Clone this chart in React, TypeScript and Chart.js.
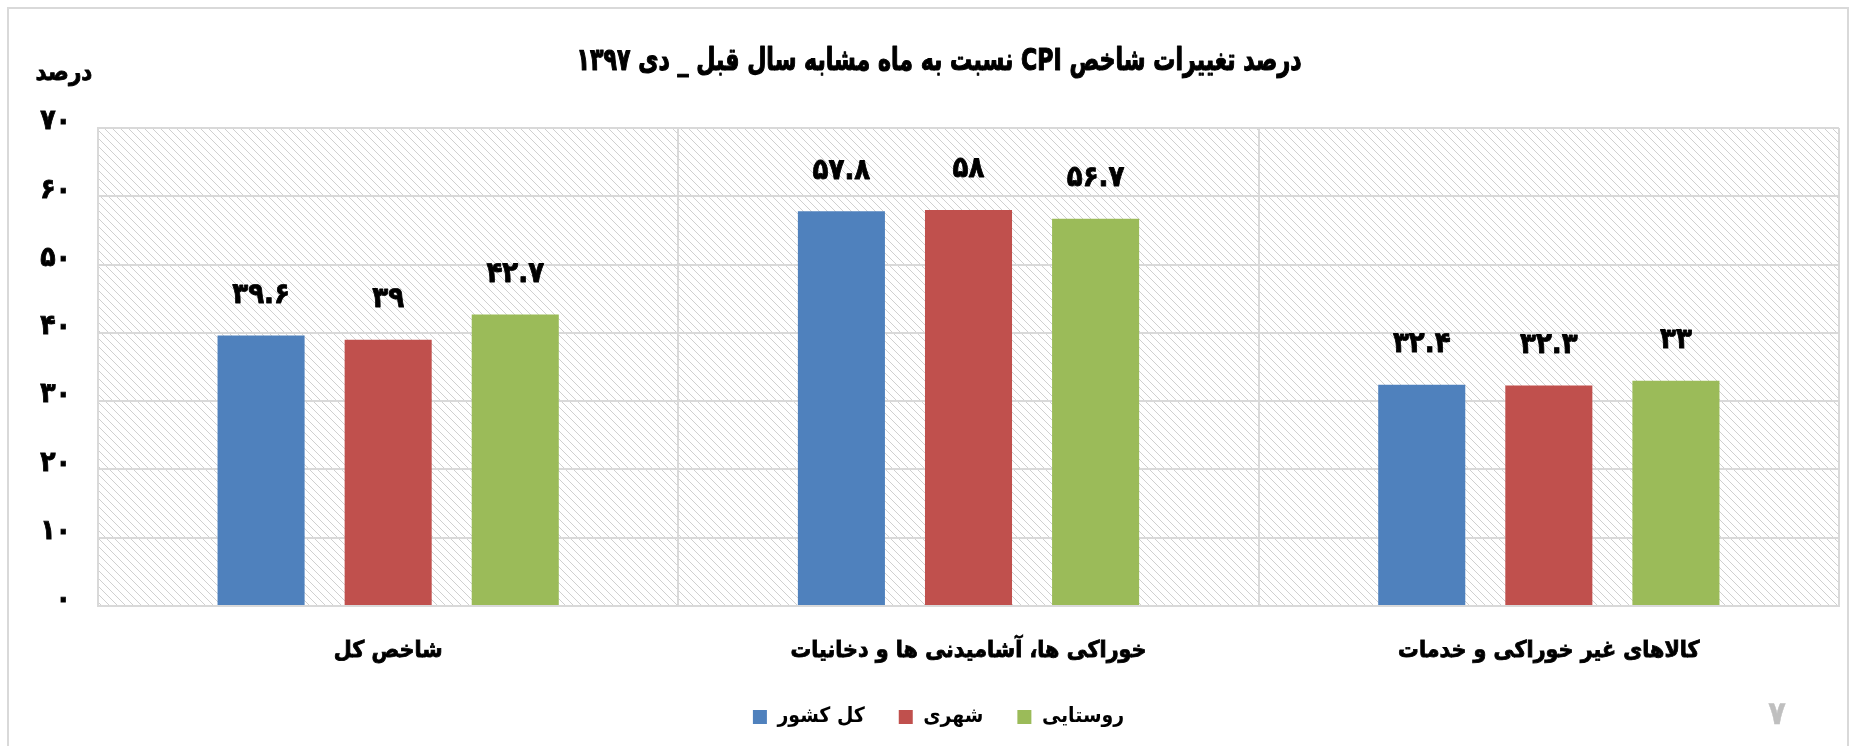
import React, { useEffect, useRef } from 'react';
import { Chart, registerables } from 'chart.js';

Chart.register(...registerables);

// ---- data ----
const categories = [
  'شاخص کل',
  'خوراکی ها، آشامیدنی ها و دخانیات',
  'کالاهای غیر خوراکی و خدمات',
];
const seriesNames = ['کل کشور', 'شهری', 'روستایی'];
const totalCountry = [39.6, 57.8, 32.4];
const urban = [39, 58, 32.3];
const rural = [42.7, 56.7, 33];
const yMin = 0;
const yMax = 70;
const yStep = 10;
const titleText = 'درصد تغییرات شاخص CPI نسبت به ماه مشابه سال قبل _ دی ۱۳۹۷';
const unitLabel = 'درصد';
const pageNumber = '۷';
const seriesColors = ['#4f81bd', '#c0504d', '#9bbb59'];

const FONT = "'DejaVu Sans Condensed', 'DejaVu Sans', sans-serif";
const toFa = (v: number | string) =>
  String(v).replace(/[0-9]/g, (d) => '۰۱۲۳۴۵۶۷۸۹'[Number(d)]);

function makeHatch(ctx: CanvasRenderingContext2D) {
  const c = document.createElement('canvas');
  c.width = 8;
  c.height = 8;
  const g = c.getContext('2d')!;
  g.strokeStyle = '#d0d0d0';
  g.lineWidth = 1;
  g.beginPath();
  g.moveTo(-1, -1);
  g.lineTo(9, 9);
  g.moveTo(-1, 7);
  g.lineTo(1, 9);
  g.moveTo(7, -1);
  g.lineTo(9, 1);
  g.stroke();
  return ctx.createPattern(c, 'repeat');
}

function heavyText(
  ctx: CanvasRenderingContext2D,
  text: string,
  x: number,
  y: number,
  size: number,
  color: string,
  stroke: number,
  targetWidth?: number
) {
  ctx.save();
  ctx.direction = 'rtl';
  ctx.font = `bold ${size}px ${FONT}`;
  ctx.textAlign = 'center';
  ctx.textBaseline = 'middle';
  ctx.translate(x, y);
  if (targetWidth) {
    const w = ctx.measureText(text).width;
    if (w > 0) ctx.scale(targetWidth / w, 1);
  }
  ctx.fillStyle = color;
  ctx.fillText(text, 0, 0);
  if (stroke > 0) {
    ctx.strokeStyle = color;
    ctx.lineWidth = stroke;
    ctx.lineJoin = 'round';
    ctx.strokeText(text, 0, 0);
  }
  ctx.restore();
}

export default function App() {
  const ref = useRef<HTMLCanvasElement>(null);

  useEffect(() => {
    document.body.style.margin = '0';
    const canvas = ref.current!;
    const ctx0 = canvas.getContext('2d')!;
    const hatch = makeHatch(ctx0);

    const decor = {
      id: 'decor',
      afterLayout(chart: any) {
        const lg = chart.legend;
        if (lg) {
          lg.left += 15;
          lg.right += 15;
        }
      },
      beforeDraw(chart: any) {
        const { ctx, chartArea: a } = chart;
        ctx.save();
        ctx.fillStyle = '#ffffff';
        ctx.fillRect(0, 0, chart.width, chart.height);
        ctx.strokeStyle = '#d9d9d9';
        ctx.lineWidth = 2;
        ctx.beginPath();
        ctx.moveTo(8, chart.height + 5);
        ctx.lineTo(8, 8);
        ctx.lineTo(1848, 8);
        ctx.lineTo(1848, chart.height + 5);
        ctx.stroke();
        if (hatch) {
          ctx.fillStyle = hatch;
          ctx.fillRect(a.left, a.top, a.right - a.left, a.bottom - a.top);
        }
        ctx.restore();
      },
      afterDatasetsDraw(chart: any) {
        const { ctx } = chart;
        chart.data.datasets.forEach((ds: any, i: number) => {
          const meta = chart.getDatasetMeta(i);
          meta.data.forEach((el: any, j: number) => {
            heavyText(ctx, toFa(ds.data[j]), el.x, el.y - 40, 29, '#000000', 0.8);
          });
        });
      },
      afterDraw(chart: any) {
        const { ctx } = chart;
        heavyText(ctx, titleText, 939, 62, 31, '#000000', 1.1, 725);
        heavyText(ctx, unitLabel, 64, 74, 24, '#000000', 0.8);
        heavyText(ctx, pageNumber, 1777, 716, 32, '#bfbfbf', 0.5);
      },
    };

    const chart = new Chart(canvas, {
      type: 'bar',
      data: {
        labels: categories,
        datasets: [
          { label: seriesNames[0], data: totalCountry, backgroundColor: seriesColors[0], borderWidth: 0 },
          { label: seriesNames[1], data: urban, backgroundColor: seriesColors[1], borderWidth: 0 },
          { label: seriesNames[2], data: rural, backgroundColor: seriesColors[2], borderWidth: 0 },
        ],
      },
      options: {
        responsive: false,
        animation: false,
        devicePixelRatio: 1,
        layout: { padding: { left: 8, right: 16, top: 128, bottom: 8.5 } },
        datasets: {
          bar: { categoryPercentage: 0.657, barPercentage: 0.685 },
        } as any,
        scales: {
          x: {
            grid: { color: '#d9d9d9', lineWidth: 2, drawTicks: false, offset: true },
            border: { color: '#d9d9d9', width: 2 },
            ticks: {
              color: '#000000',
              font: { family: FONT, size: 23, weight: 'bold', lineHeight: 1.2 },
              padding: 31,
              maxRotation: 0,
              autoSkip: false,
              textStrokeColor: '#000000',
              textStrokeWidth: 0.8,
            } as any,
            afterFit: (s: any) => {
              s.height = 66.5;
            },
          },
          y: {
            min: yMin,
            max: yMax,
            grid: { color: '#d9d9d9', lineWidth: 2, drawTicks: false },
            border: { color: '#d9d9d9', width: 2 },
            ticks: {
              stepSize: yStep,
              color: '#000000',
              font: { family: FONT, size: 28, weight: 'bold' },
              padding: 27,
              labelOffset: -6,
              textStrokeColor: '#000000',
              textStrokeWidth: 0.8,
              callback: (v: any) => toFa(v),
            } as any,
            afterFit: (s: any) => {
              s.width = 90;
            },
          },
        },
        plugins: {
          title: { display: false },
          legend: {
            display: true,
            position: 'bottom',
            labels: {
              color: '#000000',
              font: { family: FONT, size: 21, weight: 'bold' },
              boxWidth: 14,
              boxHeight: 14,
              padding: 34,
            },
          },
          tooltip: { enabled: false },
        },
      },
      plugins: [decor],
    });

    return () => chart.destroy();
  }, []);

  return (
    <canvas
      ref={ref}
      width={1855}
      height={746}
      dir="rtl"
      style={{ display: 'block', width: 1855, height: 746, direction: 'rtl' }}
    />
  );
}
